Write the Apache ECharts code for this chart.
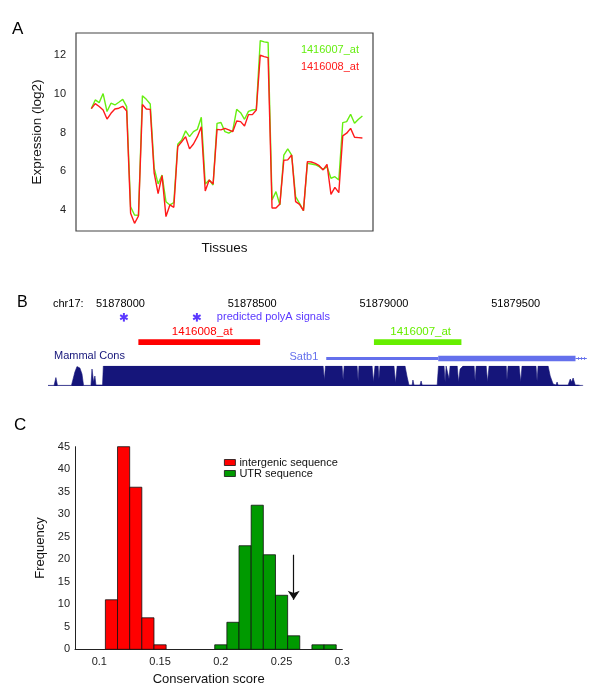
<!DOCTYPE html>
<html>
<head>
<meta charset="utf-8">
<script src="https://cdn.jsdelivr.net/npm/echarts@6/dist/echarts.min.js"></script>
<style>
html,body{margin:0;padding:0;background:#fff;}
#chart{width:600px;height:695px;}
</style>
</head>
<body>
<div id="chart"></div>
<script>
// ---------- Panel A: expression across tissues ----------
const probeNamesA = ['1416007_at', '1416008_at'];
const expr1416007 = [9.24,9.69,9.55,10.02,9.09,9.52,9.43,9.57,9.72,9.34,4.17,3.74,3.72,9.91,9.72,9.48,6.16,5.35,5.81,4.43,4.26,4.38,7.40,7.62,8.09,7.79,8.05,8.17,8.79,5.35,5.55,5.29,8.48,8.52,8.05,7.97,8.10,9.20,9.03,8.69,9.10,9.17,9.20,12.76,12.69,12.66,4.52,4.95,4.26,6.84,7.16,6.84,4.69,4.34,3.97,6.41,6.38,6.34,6.24,6.10,6.24,5.64,5.72,5.55,8.52,8.57,8.95,8.48,8.69,8.86];
const expr1416008 = [9.24,9.50,9.35,9.17,8.70,9.00,9.22,9.26,9.36,9.12,3.83,3.31,3.69,9.45,9.22,9.20,5.90,4.85,5.78,3.66,4.26,4.14,7.28,7.53,7.79,7.16,7.41,7.79,8.30,4.98,5.55,5.34,8.17,8.14,8.22,8.14,8.05,8.60,8.57,8.34,8.93,8.93,9.17,12.00,11.93,11.88,4.10,4.10,4.31,6.57,6.59,6.84,4.43,4.29,3.97,6.50,6.48,6.41,6.29,6.07,6.36,4.81,5.17,4.90,7.83,7.97,8.22,7.76,7.74,7.72];
const exprTicks = [4, 6, 8, 10, 12];

// ---------- Panel B: genome browser view ----------
const chromName = 'chr17:';
const genomeTicks = [51878000, 51878500, 51879000, 51879500];
const polyAPos = [51878013, 51878290];
const polyALabel = 'predicted polyA signals';
const probeNamesB = ['1416008_at', '1416007_at'];
const probeStart = [51878068, 51878962];
const probeEnd = [51878530, 51879294];
const geneName = 'Satb1';
const geneStart = 51878781, geneThickStart = 51879206, geneThickEnd = 51879727, geneEnd = 51879770;
const consLabel = 'Mammal Cons';
const consPos = [51877725,51877748,51877755,51877761,51877801,51877808,51877814,51877820,51877827,51877835,51877846,51877854,51877860,51877888,51877892,51877898,51877903,51877907,51877932,51877935,51878769,51878774,51878778,51878841,51878845,51878849,51878898,51878902,51878905,51878955,51878960,51878966,51878978,51878981,51878985,51879038,51879044,51879050,51879080,51879088,51879095,51879107,51879110,51879114,51879137,51879141,51879145,51879202,51879207,51879228,51879232,51879236,51879243,51879247,51879251,51879278,51879283,51879289,51879300,51879342,51879346,51879350,51879388,51879393,51879399,51879464,51879467,51879471,51879513,51879519,51879524,51879577,51879581,51879585,51879623,51879631,51879642,51879653,51879657,51879661,51879699,51879707,51879712,51879718,51879726,51879737,51879741,51879745,51879756];
const consScore = [0.03,0.03,0.42,0.03,0.03,0.13,0.03,0.05,0.7,0.97,0.9,0.6,0.03,0.03,0.85,0.2,0.5,0.05,0.05,1,1,0.3,1,1,0.3,1,1,0.25,1,1,0.2,1,1,0.35,1,1,0.15,1,1,0.45,0.05,0.05,0.3,0.05,0.05,0.25,0.05,0.05,1,1,0.2,1,1,0.35,1,1,0.2,0.85,1,1,0.25,1,1,0.2,1,1,0.3,1,1,0.2,1,1,0.25,1,1,0.5,0.1,0.05,0.2,0.05,0.05,0.35,0.2,0.4,0.05,0.05,0.15,0.03,0.03];

// ---------- Panel C: histogram ----------
const histNames = ['intergenic sequence', 'UTR sequence'];
const binWidth = 0.01;
const intergenicBins = [0.105, 0.115, 0.125, 0.135, 0.145];
const intergenicCounts = [11, 45, 36, 7, 1];
const utrBins = [0.195, 0.205, 0.215, 0.225, 0.235, 0.245, 0.255, 0.265, 0.275, 0.285];
const utrCounts = [1, 6, 23, 32, 21, 12, 3, 0, 1, 1];
const scoreTicks = [0.1, 0.15, 0.2, 0.25, 0.3];
const arrowX = 0.26, arrowFrom = 21, arrowTo = 11;

// ---------- styles ----------
const FONT = '"Liberation Sans", Arial, Helvetica, sans-serif';
const GREEN_A = '#66ee11', RED_A = '#ff1a1a';
const NAVY = '#15157a', GENE_BLUE = '#6470ec', POLYA = '#5a38ff';
const PROBE_COLORS = ['#ff0000', '#66ee00'];

const chart = echarts.init(document.getElementById('chart'), null, {renderer: 'canvas'});

function histItem(color) {
  return function (params, api) {
    const lo = api.value(0), c = api.value(1);
    if (!c) return null;
    const p0 = api.coord([lo, 0]);
    const p1 = api.coord([lo + binWidth, c]);
    return {type: 'rect', shape: {x: p0[0], y: p1[1], width: p1[0] - p0[0], height: p0[1] - p1[1]},
      style: {fill: color, stroke: '#111', lineWidth: 0.8}};
  };
}

const option = {
  animation: false,
  backgroundColor: '#fff',
  textStyle: {fontFamily: FONT},
  grid: [
    {left: 76, top: 33, width: 297, height: 198, show: true, borderColor: '#444', borderWidth: 1.2, backgroundColor: 'transparent'},
    {left: 48, top: 312, width: 542, height: 53},
    {left: 48, top: 366, width: 542, height: 20},
    {left: 75, top: 446.7, width: 267.3, height: 202.6}
  ],
  xAxis: [
    {gridIndex: 0, type: 'value', min: -2.9, max: 72.7, axisLine: {show: false}, axisTick: {show: false},
      axisLabel: {show: false}, splitLine: {show: false},
      name: 'Tissues', nameLocation: 'middle', nameGap: 10, nameTextStyle: {fontSize: 13.5, color: '#111', fontFamily: FONT}},
    {gridIndex: 1, type: 'value', position: 'top', min: 51877725, max: 51879782,
      axisLine: {show: false}, axisTick: {show: false}, splitLine: {show: false},
      axisLabel: {customValues: genomeTicks, formatter: v => String(v), fontSize: 11, color: '#000', margin: 3, fontFamily: FONT}},
    {gridIndex: 2, type: 'value', min: 51877725, max: 51879782, show: false},
    {gridIndex: 3, type: 'value', min: 0.08, max: 0.3,
      axisLine: {show: true, lineStyle: {color: '#222', width: 1}}, axisTick: {show: false}, splitLine: {show: false},
      axisLabel: {customValues: scoreTicks, formatter: v => String(v), fontSize: 11, color: '#222', margin: 7, fontFamily: FONT},
      name: 'Conservation score', nameLocation: 'middle', nameGap: 24, nameTextStyle: {fontSize: 13, color: '#111', fontFamily: FONT}}
  ],
  yAxis: [
    {gridIndex: 0, type: 'value', min: 2.914, max: 13.15, axisLine: {show: false}, axisTick: {show: false}, splitLine: {show: false},
      axisLabel: {customValues: exprTicks, fontSize: 11, color: '#222', margin: 10, fontFamily: FONT},
      name: 'Expression (log2)', nameLocation: 'middle', nameGap: 32, nameTextStyle: {fontSize: 13.5, color: '#111', fontFamily: FONT}},
    {gridIndex: 1, type: 'value', min: 0, max: 1, show: false},
    {gridIndex: 2, type: 'value', min: 0, max: 1, show: false},
    {gridIndex: 3, type: 'value', min: 0, max: 45, interval: 5,
      axisLine: {show: true, lineStyle: {color: '#222', width: 1}}, axisTick: {show: false}, splitLine: {show: false},
      axisLabel: {fontSize: 11, color: '#222', margin: 5, fontFamily: FONT},
      name: 'Frequency', nameLocation: 'middle', nameGap: 28, nameTextStyle: {fontSize: 13, color: '#111', fontFamily: FONT}}
  ],
  legend: {
    data: histNames, orient: 'vertical', left: 219, top: 452, itemWidth: 11, itemHeight: 6, itemGap: 0,
    icon: 'rect', itemStyle: {borderColor: '#111', borderWidth: 0.8},
    textStyle: {fontSize: 11, color: '#111', lineHeight: 10, fontFamily: FONT, padding: [0, 0, 0, -1]},
    selectedMode: false
  },
  series: [
    {name: probeNamesA[0], type: 'line', xAxisIndex: 0, yAxisIndex: 0, symbol: 'none',
      lineStyle: {color: GREEN_A, width: 1.4}, itemStyle: {color: GREEN_A},
      data: expr1416007.map((v, i) => [i + 1, v])},
    {name: probeNamesA[1], type: 'line', xAxisIndex: 0, yAxisIndex: 0, symbol: 'none',
      lineStyle: {color: RED_A, width: 1.4}, itemStyle: {color: RED_A},
      data: expr1416008.map((v, i) => [i + 1, v])},
    // polyA stars
    {type: 'custom', xAxisIndex: 1, yAxisIndex: 1, data: polyAPos.map(p => [p]),
      renderItem: function (params, api) {
        const x = api.coord([api.value(0), 0])[0];
        const y = params.coordSys.y + 5.3;
        const r = 4.3, c = r * Math.cos(Math.PI / 6), s = r * Math.sin(Math.PI / 6);
        const st = {stroke: POLYA, lineWidth: 2};
        const children = [
          {type: 'line', shape: {x1: x, y1: y - r, x2: x, y2: y + r}, style: st},
          {type: 'line', shape: {x1: x - c, y1: y - s, x2: x + c, y2: y + s}, style: st},
          {type: 'line', shape: {x1: x - c, y1: y + s, x2: x + c, y2: y - s}, style: st}
        ];
        if (params.dataIndex === polyAPos.length - 1) {
          children.push({type: 'text', style: {x: x + 20, y: y, text: polyALabel, fill: POLYA, fontSize: 11,
            fontFamily: FONT, align: 'left', verticalAlign: 'middle'}});
        }
        return {type: 'group', children: children};
      }},
    // probes
    {type: 'custom', xAxisIndex: 1, yAxisIndex: 1, data: probeStart.map((s, i) => [s, probeEnd[i]]),
      renderItem: function (params, api) {
        const x0 = api.coord([api.value(0), 0])[0];
        const x1 = api.coord([api.value(1), 0])[0];
        const y = params.coordSys.y;
        const col = PROBE_COLORS[params.dataIndex];
        return {type: 'group', children: [
          {type: 'rect', shape: {x: x0, y: y + 27.3, width: x1 - x0, height: 5.7}, style: {fill: col}},
          {type: 'text', style: {x: (x0 + x1) / 2 + 3, y: y + 20.3, text: probeNamesB[params.dataIndex], fill: col,
            fontSize: 11.5, fontFamily: FONT, align: 'center', verticalAlign: 'middle'}}
        ]};
      }},
    // gene
    {type: 'custom', xAxisIndex: 1, yAxisIndex: 1, data: [[geneStart, geneThickStart, geneThickEnd, geneEnd]],
      renderItem: function (params, api) {
        const xa = api.coord([api.value(0), 0])[0];
        const xb = api.coord([api.value(1), 0])[0];
        const xc = api.coord([api.value(2), 0])[0];
        const xd = api.coord([api.value(3), 0])[0];
        const yc = params.coordSys.y + 46.5;
        const children = [
          {type: 'rect', shape: {x: xa, y: yc - 1.5, width: xb - xa, height: 3}, style: {fill: GENE_BLUE}},
          {type: 'rect', shape: {x: xb, y: yc - 2.8, width: xc - xb, height: 5.6}, style: {fill: GENE_BLUE}},
          {type: 'line', shape: {x1: xc, y1: yc, x2: xd, y2: yc}, style: {stroke: GENE_BLUE, lineWidth: 1}},
          {type: 'text', style: {x: xa - 8, y: yc - 2, text: geneName, fill: GENE_BLUE, fontSize: 11,
            fontFamily: FONT, align: 'right', verticalAlign: 'middle'}}
        ];
        for (let t = xc + 3; t < xd; t += 3) {
          children.push({type: 'line', shape: {x1: t, y1: yc - 1.5, x2: t, y2: yc + 1.5}, style: {stroke: GENE_BLUE, lineWidth: 0.8}});
        }
        return {type: 'group', children: children};
      }},
    // conservation
    {type: 'line', xAxisIndex: 2, yAxisIndex: 2, symbol: 'none',
      lineStyle: {color: NAVY, width: 0.6}, areaStyle: {color: NAVY, opacity: 1},
      data: consPos.map((p, i) => [p, consScore[i]])},
    // histogram
    {name: histNames[0], type: 'custom', xAxisIndex: 3, yAxisIndex: 3, itemStyle: {color: '#ff0000'},
      data: intergenicBins.map((b, i) => [b, intergenicCounts[i]]), renderItem: histItem('#ff0000')},
    {name: histNames[1], type: 'custom', xAxisIndex: 3, yAxisIndex: 3, itemStyle: {color: '#009a00'},
      data: utrBins.map((b, i) => [b, utrCounts[i]]), renderItem: histItem('#009a00')},
    {type: 'lines', coordinateSystem: 'cartesian2d', xAxisIndex: 3, yAxisIndex: 3,
      symbol: ['none', 'arrow'], symbolSize: [5, 9],
      lineStyle: {color: '#111', width: 1.2, opacity: 1},
      data: [{coords: [[arrowX, arrowFrom], [arrowX, arrowTo]]}]}
  ],
  graphic: [
    {type: 'text', left: 12, top: 21, style: {text: 'A', fontSize: 17, fill: '#000', fontFamily: FONT}},
    {type: 'text', left: 17, top: 295, style: {text: 'B', fontSize: 16, fill: '#000', fontFamily: FONT}},
    {type: 'text', left: 14, top: 417, style: {text: 'C', fontSize: 17, fill: '#000', fontFamily: FONT}},
    {type: 'text', x: 359, y: 50, style: {text: probeNamesA[0], fontSize: 11, fill: GREEN_A, align: 'right', verticalAlign: 'middle', fontFamily: FONT}},
    {type: 'text', x: 359, y: 66.7, style: {text: probeNamesA[1], fontSize: 11, fill: RED_A, align: 'right', verticalAlign: 'middle', fontFamily: FONT}},
    {type: 'text', x: 53, y: 304, style: {text: chromName, fontSize: 11, fill: '#000', align: 'left', verticalAlign: 'middle', fontFamily: FONT}},
    {type: 'text', x: 54, y: 356, style: {text: consLabel, fontSize: 11, fill: NAVY, align: 'left', verticalAlign: 'middle', fontFamily: FONT}}
  ]
};
chart.setOption(option);
</script>
</body>
</html>
